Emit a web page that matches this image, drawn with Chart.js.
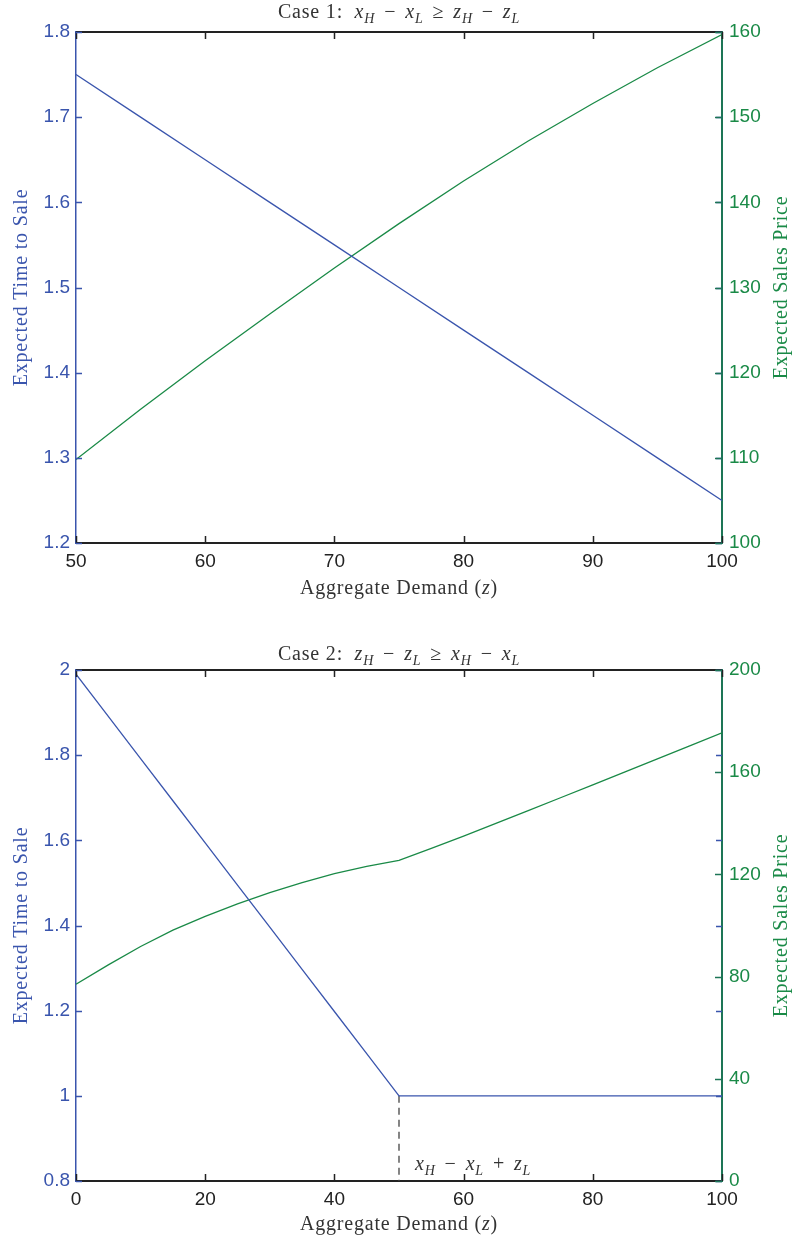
<!DOCTYPE html>
<html lang="en">
<head>
    <meta charset="UTF-8">
    <title>Expected Time to Sale and Sales Price</title>
    <script src="https://cdn.jsdelivr.net/npm/chart.js"></script>
    <style>
        body { margin: 0; background: #fff; }
        canvas { display: block; }
    </style>
</head>
<body>
    <canvas id="case1" width="795" height="621"></canvas>
    <canvas id="case2" width="795" height="621"></canvas>

    <script>
        // Case 1 data
        const demand1 = [50, 55, 60, 65, 70, 75, 80, 85, 90, 95, 100];
        const timeToSale1 = [1.75, 1.70, 1.65, 1.60, 1.55, 1.50, 1.45, 1.40, 1.35, 1.30, 1.25];
        const salesPrice1 = [109.8, 115.7, 121.4, 126.9, 132.3, 137.5, 142.5, 147.2, 151.6, 155.8, 159.7];

        // Case 2 data
        const demand2 = [0, 5, 10, 15, 20, 25, 30, 35, 40, 45, 50, 55, 60, 65, 70, 75, 80, 85, 90, 95, 100];
        const timeToSale2 = [1.99, 1.891, 1.792, 1.693, 1.594, 1.495, 1.396, 1.297, 1.198, 1.099, 1.0, 1.0, 1.0, 1.0, 1.0, 1.0, 1.0, 1.0, 1.0, 1.0, 1.0];
        const salesPrice2 = [77, 84.6, 91.8, 98.2, 103.6, 108.5, 112.9, 116.8, 120.3, 123.1, 125.5, 130.2, 135, 140, 145, 150, 155, 160.1, 165.2, 170.3, 175.4];

        // threshold marker in case 2 (dashed line)
        const markerX = [50, 50];
        const markerY = [1.0, 0.8];

        // tick labels
        const xTicks1 = [50, 60, 70, 80, 90, 100];
        const leftTicks1 = [1.2, 1.3, 1.4, 1.5, 1.6, 1.7, 1.8];
        const rightTicks1 = [100, 110, 120, 130, 140, 150, 160];
        const xTicks2 = [0, 20, 40, 60, 80, 100];
        const leftTicks2 = [0.8, 1, 1.2, 1.4, 1.6, 1.8, 2];
        const rightTicks2 = [0, 40, 80, 120, 160, 200];

        const BLUE = '#3a55ad';
        const GREEN = '#1a8a47';
        const GREEN_AXIS = '#1d7556';
        const DARK = '#222';
        const SERIF = '"Liberation Serif", "DejaVu Serif", serif';
        const SANS = '"Liberation Sans", Arial, sans-serif';

        function toPoints(xs, ys) {
            return xs.map((x, i) => ({ x: x, y: ys[i] }));
        }

        function fixedTicks(arr) {
            return function(scale) {
                scale.ticks = arr.map(v => ({ value: v }));
            };
        }

        // draw a run of text pieces: r = roman, i = italic, s = italic subscript, o = spaced operator
        const OP_PAD = 9;
        function drawMath(ctx, pieces, x, y, align) {
            const fonts = {
                r: '20px ' + SERIF,
                o: '20px ' + SERIF,
                i: 'italic 20px ' + SERIF,
                s: 'italic 14px ' + SERIF
            };
            ctx.letterSpacing = '0.8px';
            const widthOf = p => {
                ctx.font = fonts[p[1]];
                return ctx.measureText(p[0]).width + (p[1] === 'o' ? 2 * OP_PAD : 0);
            };
            let total = 0;
            pieces.forEach(p => { total += widthOf(p); });
            let cx = align === 'center' ? x - total / 2 : x;
            ctx.textAlign = 'left';
            ctx.textBaseline = 'alphabetic';
            pieces.forEach(p => {
                const w = widthOf(p);
                ctx.font = fonts[p[1]];
                const dx = p[1] === 'o' ? OP_PAD : 0;
                ctx.fillText(p[0], cx + dx, p[1] === 's' ? y + 5 : y);
                cx += w;
            });
            ctx.letterSpacing = '0px';
        }

        const decorations = {
            id: 'decorations',
            afterDraw(chart, args, opts) {
                const ctx = chart.ctx;
                const a = chart.chartArea;
                const xs = chart.scales.x;
                const yl = chart.scales.yL;
                const yr = chart.scales.yR;
                ctx.save();

                // top frame line
                ctx.strokeStyle = DARK;
                ctx.lineWidth = 2;
                ctx.beginPath();
                ctx.moveTo(a.left, a.top);
                ctx.lineTo(a.right, a.top);
                ctx.stroke();

                // inward ticks
                ctx.lineWidth = 1.5;
                xs.ticks.forEach(t => {
                    const px = Math.round(xs.getPixelForValue(t.value)) + 0.5;
                    ctx.beginPath();
                    ctx.moveTo(px, a.bottom);
                    ctx.lineTo(px, a.bottom - 7);
                    ctx.moveTo(px, a.top);
                    ctx.lineTo(px, a.top + 7);
                    ctx.stroke();
                });
                ctx.strokeStyle = BLUE;
                yl.ticks.forEach(t => {
                    const py = Math.round(yl.getPixelForValue(t.value)) + 0.5;
                    ctx.beginPath();
                    ctx.moveTo(a.left, py);
                    ctx.lineTo(a.left + 6, py);
                    ctx.moveTo(a.right, py);
                    ctx.lineTo(a.right - 6, py);
                    ctx.stroke();
                });
                ctx.strokeStyle = GREEN_AXIS;
                yr.ticks.forEach(t => {
                    const py = Math.round(yr.getPixelForValue(t.value)) + 0.5;
                    ctx.beginPath();
                    ctx.moveTo(a.right, py);
                    ctx.lineTo(a.right - 7, py);
                    ctx.stroke();
                });

                // title
                ctx.fillStyle = '#333';
                drawMath(ctx, opts.title, (a.left + a.right) / 2, a.top - opts.titleGap, 'center');

                // x axis title
                drawMath(ctx, [['Aggregate Demand (', 'r'], ['z', 'i'], [')', 'r']],
                    (a.left + a.right) / 2, a.bottom + opts.xTitleGap, 'center');

                // y axis titles, both read bottom to top
                const midY = (a.top + a.bottom) / 2;
                ctx.font = '20px ' + SERIF;
                ctx.letterSpacing = '0.8px';
                ctx.textAlign = 'center';
                ctx.textBaseline = 'middle';
                ctx.fillStyle = BLUE;
                ctx.save();
                ctx.translate(22, midY);
                ctx.rotate(-Math.PI / 2);
                ctx.fillText('Expected Time to Sale', 0, 0);
                ctx.restore();
                ctx.fillStyle = GREEN;
                ctx.save();
                ctx.translate(chart.width - 13, midY);
                ctx.rotate(-Math.PI / 2);
                ctx.fillText('Expected Sales Price', 0, 0);
                ctx.restore();
                ctx.letterSpacing = '0px';

                // annotation
                if (opts.note) {
                    ctx.fillStyle = '#333';
                    drawMath(ctx, opts.note, xs.getPixelForValue(opts.noteAt) + 16, a.bottom - 11, 'left');
                }
                ctx.restore();
            }
        };

        function makeChart(id, d) {
            const datasets = [
                {
                    data: toPoints(d.xs, d.left),
                    yAxisID: 'yL',
                    borderColor: BLUE,
                    borderWidth: 1.3,
                    pointRadius: 0,
                    tension: 0
                },
                {
                    data: toPoints(d.xs, d.right),
                    yAxisID: 'yR',
                    borderColor: GREEN,
                    borderWidth: 1.3,
                    pointRadius: 0,
                    tension: 0
                }
            ];
            if (d.marker) {
                datasets.push({
                    data: toPoints(d.marker[0], d.marker[1]),
                    yAxisID: 'yL',
                    borderColor: '#444',
                    borderWidth: 1.3,
                    borderDash: [7, 5],
                    pointRadius: 0
                });
            }

            return new Chart(document.getElementById(id), {
                type: 'line',
                data: { datasets: datasets },
                options: {
                    responsive: false,
                    animation: false,
                    layout: { padding: { top: d.padTop, left: 0, right: 0, bottom: 0 } },
                    plugins: {
                        legend: { display: false },
                        tooltip: { enabled: false },
                        decorations: d.deco
                    },
                    scales: {
                        x: {
                            type: 'linear',
                            position: 'bottom',
                            min: d.xTicks[0],
                            max: d.xTicks[d.xTicks.length - 1],
                            afterBuildTicks: fixedTicks(d.xTicks),
                            afterFit: s => { s.height = d.xHeight; },
                            grid: { display: false, drawTicks: false },
                            border: { display: true, color: DARK, width: 2 },
                            ticks: {
                                color: DARK,
                                padding: 7,
                                maxRotation: 0,
                                autoSkip: false,
                                font: { family: SANS, size: 19 },
                                callback: v => String(v)
                            }
                        },
                        yL: {
                            type: 'linear',
                            position: 'left',
                            min: d.leftTicks[0],
                            max: d.leftTicks[d.leftTicks.length - 1],
                            afterBuildTicks: fixedTicks(d.leftTicks),
                            afterFit: s => { s.width = 76; },
                            grid: { display: false, drawTicks: false },
                            border: { display: true, color: BLUE, width: 1.5 },
                            ticks: {
                                color: BLUE,
                                padding: 6,
                                font: { family: SANS, size: 19 },
                                callback: v => String(v)
                            }
                        },
                        yR: {
                            type: 'linear',
                            position: 'right',
                            min: d.rightTicks[0],
                            max: d.rightTicks[d.rightTicks.length - 1],
                            afterBuildTicks: fixedTicks(d.rightTicks),
                            afterFit: s => { s.width = 73; },
                            grid: { display: false, drawTicks: false },
                            border: { display: true, color: GREEN_AXIS, width: 2 },
                            ticks: {
                                color: GREEN,
                                padding: 7,
                                font: { family: SANS, size: 19 },
                                callback: v => String(v)
                            }
                        }
                    }
                },
                plugins: [decorations]
            });
        }

        makeChart('case1', {
            xs: demand1,
            left: timeToSale1,
            right: salesPrice1,
            xTicks: xTicks1,
            leftTicks: leftTicks1,
            rightTicks: rightTicks1,
            padTop: 32,
            xHeight: 78,
            deco: {
                title: [['Case 1:  ', 'r'], ['x', 'i'], ['H', 's'], ['\u2212', 'o'], ['x', 'i'], ['L', 's'],
                        ['\u2265', 'o'], ['z', 'i'], ['H', 's'], ['\u2212', 'o'], ['z', 'i'], ['L', 's']],
                titleGap: 14,
                xTitleGap: 51
            }
        });

        makeChart('case2', {
            xs: demand2,
            left: timeToSale2,
            right: salesPrice2,
            marker: [markerX, markerY],
            xTicks: xTicks2,
            leftTicks: leftTicks2,
            rightTicks: rightTicks2,
            padTop: 49,
            xHeight: 61,
            deco: {
                title: [['Case 2:  ', 'r'], ['z', 'i'], ['H', 's'], ['\u2212', 'o'], ['z', 'i'], ['L', 's'],
                        ['\u2265', 'o'], ['x', 'i'], ['H', 's'], ['\u2212', 'o'], ['x', 'i'], ['L', 's']],
                titleGap: 10,
                xTitleGap: 49,
                note: [['x', 'i'], ['H', 's'], ['\u2212', 'o'], ['x', 'i'], ['L', 's'], ['+', 'o'], ['z', 'i'], ['L', 's']],
                noteAt: 50
            }
        });
    </script>
</body>
</html>
